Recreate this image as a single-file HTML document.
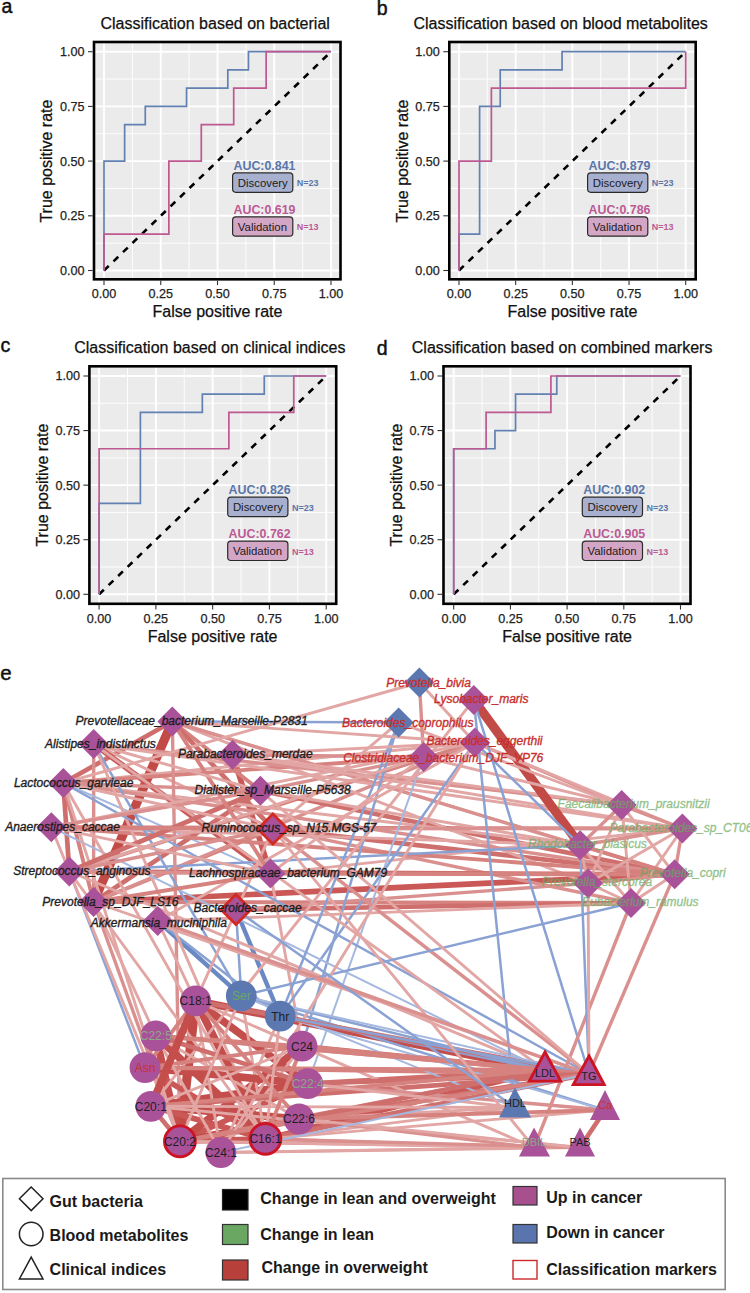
<!DOCTYPE html>
<html><head><meta charset="utf-8"><style>html,body{margin:0;padding:0;background:#fff;width:750px;height:1293px;overflow:hidden}svg{display:block}</style></head>
<body>
<svg width="750" height="1293" viewBox="0 0 750 1293" font-family='"Liberation Sans", sans-serif'>
<rect width="750" height="1293" fill="#fff"/>
<rect x="92.7" y="40.7" width="249.10000000000002" height="239.90000000000003" fill="#ebebeb"/>
<line x1="132.38" y1="40.7" x2="132.38" y2="280.6" stroke="#fff" stroke-width="0.9"/>
<line x1="92.7" y1="243.15" x2="341.8" y2="243.15" stroke="#fff" stroke-width="0.9"/>
<line x1="189.12" y1="40.7" x2="189.12" y2="280.6" stroke="#fff" stroke-width="0.9"/>
<line x1="92.7" y1="188.45" x2="341.8" y2="188.45" stroke="#fff" stroke-width="0.9"/>
<line x1="245.88" y1="40.7" x2="245.88" y2="280.6" stroke="#fff" stroke-width="0.9"/>
<line x1="92.7" y1="133.75" x2="341.8" y2="133.75" stroke="#fff" stroke-width="0.9"/>
<line x1="302.62" y1="40.7" x2="302.62" y2="280.6" stroke="#fff" stroke-width="0.9"/>
<line x1="92.7" y1="79.05" x2="341.8" y2="79.05" stroke="#fff" stroke-width="0.9"/>
<line x1="104.00" y1="40.7" x2="104.00" y2="280.6" stroke="#fff" stroke-width="1.9"/>
<line x1="92.7" y1="270.50" x2="341.8" y2="270.50" stroke="#fff" stroke-width="1.9"/>
<line x1="160.75" y1="40.7" x2="160.75" y2="280.6" stroke="#fff" stroke-width="1.9"/>
<line x1="92.7" y1="215.80" x2="341.8" y2="215.80" stroke="#fff" stroke-width="1.9"/>
<line x1="217.50" y1="40.7" x2="217.50" y2="280.6" stroke="#fff" stroke-width="1.9"/>
<line x1="92.7" y1="161.10" x2="341.8" y2="161.10" stroke="#fff" stroke-width="1.9"/>
<line x1="274.25" y1="40.7" x2="274.25" y2="280.6" stroke="#fff" stroke-width="1.9"/>
<line x1="92.7" y1="106.40" x2="341.8" y2="106.40" stroke="#fff" stroke-width="1.9"/>
<line x1="331.00" y1="40.7" x2="331.00" y2="280.6" stroke="#fff" stroke-width="1.9"/>
<line x1="92.7" y1="51.70" x2="341.8" y2="51.70" stroke="#fff" stroke-width="1.9"/>
<line x1="104.00" y1="270.50" x2="331.00" y2="51.70" stroke="#000" stroke-width="2.6" stroke-dasharray="6.6 6.6"/>
<path d="M104.00,270.50 L104.00,161.10 L124.64,161.10 L124.64,124.63 L145.27,124.63 L145.27,106.40 L186.55,106.40 L186.55,88.17 L227.82,88.17 L227.82,69.93 L248.45,69.93 L248.45,51.70 L331.00,51.70" fill="none" stroke="#6280b2" stroke-width="1.7"/>
<path d="M104.00,270.50 L104.00,234.03 L168.86,234.03 L168.86,161.10 L201.29,161.10 L201.29,124.63 L233.71,124.63 L233.71,88.17 L266.14,88.17 L266.14,51.70 L331.00,51.70" fill="none" stroke="#bd5890" stroke-width="1.7"/>
<text x="233.5" y="169.8" font-size="12.4" font-weight="bold" fill="#5a76aa">AUC:0.841</text>
<rect x="232.6" y="172.9" width="60.2" height="19.4" rx="3.2" fill="#a8b0cf" stroke="#2a2a2a" stroke-width="1.2"/>
<text x="237.8" y="186.7" font-size="11.4" fill="#1a1a1a">Discovery</text>
<text x="296.8" y="186.2" font-size="9" font-weight="bold" fill="#5a76aa">N=23</text>
<text x="233.5" y="213.8" font-size="12.4" font-weight="bold" fill="#bb5a94">AUC:0.619</text>
<rect x="232.6" y="216.8" width="60.2" height="19.4" rx="3.2" fill="#d4a6c6" stroke="#2a2a2a" stroke-width="1.2"/>
<text x="237.8" y="230.5" font-size="11.4" fill="#1a1a1a">Validation</text>
<text x="296.8" y="230.2" font-size="9" font-weight="bold" fill="#bb5a94">N=13</text>
<rect x="94.0" y="42.0" width="246.50000000000003" height="237.30000000000004" fill="none" stroke="#000" stroke-width="2.6"/>
<line x1="104.00" y1="280.6" x2="104.00" y2="285.1" stroke="#333" stroke-width="1.1"/>
<text x="104.00" y="298.1" font-size="12.6" fill="#222" stroke="#222" stroke-width="0.25" text-anchor="middle">0.00</text>
<line x1="88.0" y1="270.50" x2="92.7" y2="270.50" stroke="#333" stroke-width="1.1"/>
<text x="84.5" y="274.90" font-size="12.6" fill="#222" stroke="#222" stroke-width="0.25" text-anchor="end">0.00</text>
<line x1="160.75" y1="280.6" x2="160.75" y2="285.1" stroke="#333" stroke-width="1.1"/>
<text x="160.75" y="298.1" font-size="12.6" fill="#222" stroke="#222" stroke-width="0.25" text-anchor="middle">0.25</text>
<line x1="88.0" y1="215.80" x2="92.7" y2="215.80" stroke="#333" stroke-width="1.1"/>
<text x="84.5" y="220.20" font-size="12.6" fill="#222" stroke="#222" stroke-width="0.25" text-anchor="end">0.25</text>
<line x1="217.50" y1="280.6" x2="217.50" y2="285.1" stroke="#333" stroke-width="1.1"/>
<text x="217.50" y="298.1" font-size="12.6" fill="#222" stroke="#222" stroke-width="0.25" text-anchor="middle">0.50</text>
<line x1="88.0" y1="161.10" x2="92.7" y2="161.10" stroke="#333" stroke-width="1.1"/>
<text x="84.5" y="165.50" font-size="12.6" fill="#222" stroke="#222" stroke-width="0.25" text-anchor="end">0.50</text>
<line x1="274.25" y1="280.6" x2="274.25" y2="285.1" stroke="#333" stroke-width="1.1"/>
<text x="274.25" y="298.1" font-size="12.6" fill="#222" stroke="#222" stroke-width="0.25" text-anchor="middle">0.75</text>
<line x1="88.0" y1="106.40" x2="92.7" y2="106.40" stroke="#333" stroke-width="1.1"/>
<text x="84.5" y="110.80" font-size="12.6" fill="#222" stroke="#222" stroke-width="0.25" text-anchor="end">0.75</text>
<line x1="331.00" y1="280.6" x2="331.00" y2="285.1" stroke="#333" stroke-width="1.1"/>
<text x="331.00" y="298.1" font-size="12.6" fill="#222" stroke="#222" stroke-width="0.25" text-anchor="middle">1.00</text>
<line x1="88.0" y1="51.70" x2="92.7" y2="51.70" stroke="#333" stroke-width="1.1"/>
<text x="84.5" y="56.10" font-size="12.6" fill="#222" stroke="#222" stroke-width="0.25" text-anchor="end">1.00</text>
<text x="217.5" y="317.1" font-size="16" fill="#111" stroke="#111" stroke-width="0.25" text-anchor="middle">False positive rate</text>
<text transform="translate(52.2,161.1) rotate(-90)" x="0" y="0" font-size="16" fill="#111" stroke="#111" stroke-width="0.25" text-anchor="middle">True positive rate</text>
<text x="100.4" y="28.7" font-size="16" fill="#111" stroke="#111" stroke-width="0.25">Classification based on bacterial</text>
<text x="1.6" y="12.8" font-size="19.5" fill="#111" stroke="#111" stroke-width="0.45">a</text>
<rect x="448" y="40.7" width="249" height="239.90000000000003" fill="#ebebeb"/>
<line x1="487.34" y1="40.7" x2="487.34" y2="280.6" stroke="#fff" stroke-width="0.9"/>
<line x1="448" y1="243.15" x2="697" y2="243.15" stroke="#fff" stroke-width="0.9"/>
<line x1="544.01" y1="40.7" x2="544.01" y2="280.6" stroke="#fff" stroke-width="0.9"/>
<line x1="448" y1="188.45" x2="697" y2="188.45" stroke="#fff" stroke-width="0.9"/>
<line x1="600.69" y1="40.7" x2="600.69" y2="280.6" stroke="#fff" stroke-width="0.9"/>
<line x1="448" y1="133.75" x2="697" y2="133.75" stroke="#fff" stroke-width="0.9"/>
<line x1="657.36" y1="40.7" x2="657.36" y2="280.6" stroke="#fff" stroke-width="0.9"/>
<line x1="448" y1="79.05" x2="697" y2="79.05" stroke="#fff" stroke-width="0.9"/>
<line x1="459.00" y1="40.7" x2="459.00" y2="280.6" stroke="#fff" stroke-width="1.9"/>
<line x1="448" y1="270.50" x2="697" y2="270.50" stroke="#fff" stroke-width="1.9"/>
<line x1="515.67" y1="40.7" x2="515.67" y2="280.6" stroke="#fff" stroke-width="1.9"/>
<line x1="448" y1="215.80" x2="697" y2="215.80" stroke="#fff" stroke-width="1.9"/>
<line x1="572.35" y1="40.7" x2="572.35" y2="280.6" stroke="#fff" stroke-width="1.9"/>
<line x1="448" y1="161.10" x2="697" y2="161.10" stroke="#fff" stroke-width="1.9"/>
<line x1="629.03" y1="40.7" x2="629.03" y2="280.6" stroke="#fff" stroke-width="1.9"/>
<line x1="448" y1="106.40" x2="697" y2="106.40" stroke="#fff" stroke-width="1.9"/>
<line x1="685.70" y1="40.7" x2="685.70" y2="280.6" stroke="#fff" stroke-width="1.9"/>
<line x1="448" y1="51.70" x2="697" y2="51.70" stroke="#fff" stroke-width="1.9"/>
<line x1="459.00" y1="270.50" x2="685.70" y2="51.70" stroke="#000" stroke-width="2.6" stroke-dasharray="6.6 6.6"/>
<path d="M459.00,270.50 L459.00,234.03 L479.61,234.03 L479.61,106.40 L500.22,106.40 L500.22,69.93 L562.05,69.93 L562.05,51.70 L685.70,51.70" fill="none" stroke="#6280b2" stroke-width="1.7"/>
<path d="M459.00,270.50 L459.00,161.10 L491.39,161.10 L491.39,88.17 L685.70,88.17 L685.70,51.70" fill="none" stroke="#bd5890" stroke-width="1.7"/>
<text x="588.5" y="169.8" font-size="12.4" font-weight="bold" fill="#5a76aa">AUC:0.879</text>
<rect x="587.6" y="172.9" width="60.2" height="19.4" rx="3.2" fill="#a8b0cf" stroke="#2a2a2a" stroke-width="1.2"/>
<text x="592.8" y="186.7" font-size="11.4" fill="#1a1a1a">Discovery</text>
<text x="651.8" y="186.2" font-size="9" font-weight="bold" fill="#5a76aa">N=23</text>
<text x="588.5" y="213.8" font-size="12.4" font-weight="bold" fill="#bb5a94">AUC:0.786</text>
<rect x="587.6" y="216.8" width="60.2" height="19.4" rx="3.2" fill="#d4a6c6" stroke="#2a2a2a" stroke-width="1.2"/>
<text x="592.8" y="230.5" font-size="11.4" fill="#1a1a1a">Validation</text>
<text x="651.8" y="230.2" font-size="9" font-weight="bold" fill="#bb5a94">N=13</text>
<rect x="449.3" y="42.0" width="246.4" height="237.30000000000004" fill="none" stroke="#000" stroke-width="2.6"/>
<line x1="459.00" y1="280.6" x2="459.00" y2="285.1" stroke="#333" stroke-width="1.1"/>
<text x="459.00" y="298.1" font-size="12.6" fill="#222" stroke="#222" stroke-width="0.25" text-anchor="middle">0.00</text>
<line x1="443.3" y1="270.50" x2="448" y2="270.50" stroke="#333" stroke-width="1.1"/>
<text x="439.8" y="274.90" font-size="12.6" fill="#222" stroke="#222" stroke-width="0.25" text-anchor="end">0.00</text>
<line x1="515.67" y1="280.6" x2="515.67" y2="285.1" stroke="#333" stroke-width="1.1"/>
<text x="515.67" y="298.1" font-size="12.6" fill="#222" stroke="#222" stroke-width="0.25" text-anchor="middle">0.25</text>
<line x1="443.3" y1="215.80" x2="448" y2="215.80" stroke="#333" stroke-width="1.1"/>
<text x="439.8" y="220.20" font-size="12.6" fill="#222" stroke="#222" stroke-width="0.25" text-anchor="end">0.25</text>
<line x1="572.35" y1="280.6" x2="572.35" y2="285.1" stroke="#333" stroke-width="1.1"/>
<text x="572.35" y="298.1" font-size="12.6" fill="#222" stroke="#222" stroke-width="0.25" text-anchor="middle">0.50</text>
<line x1="443.3" y1="161.10" x2="448" y2="161.10" stroke="#333" stroke-width="1.1"/>
<text x="439.8" y="165.50" font-size="12.6" fill="#222" stroke="#222" stroke-width="0.25" text-anchor="end">0.50</text>
<line x1="629.03" y1="280.6" x2="629.03" y2="285.1" stroke="#333" stroke-width="1.1"/>
<text x="629.03" y="298.1" font-size="12.6" fill="#222" stroke="#222" stroke-width="0.25" text-anchor="middle">0.75</text>
<line x1="443.3" y1="106.40" x2="448" y2="106.40" stroke="#333" stroke-width="1.1"/>
<text x="439.8" y="110.80" font-size="12.6" fill="#222" stroke="#222" stroke-width="0.25" text-anchor="end">0.75</text>
<line x1="685.70" y1="280.6" x2="685.70" y2="285.1" stroke="#333" stroke-width="1.1"/>
<text x="685.70" y="298.1" font-size="12.6" fill="#222" stroke="#222" stroke-width="0.25" text-anchor="middle">1.00</text>
<line x1="443.3" y1="51.70" x2="448" y2="51.70" stroke="#333" stroke-width="1.1"/>
<text x="439.8" y="56.10" font-size="12.6" fill="#222" stroke="#222" stroke-width="0.25" text-anchor="end">1.00</text>
<text x="572.4" y="317.1" font-size="16" fill="#111" stroke="#111" stroke-width="0.25" text-anchor="middle">False positive rate</text>
<text transform="translate(407.5,161.1) rotate(-90)" x="0" y="0" font-size="16" fill="#111" stroke="#111" stroke-width="0.25" text-anchor="middle">True positive rate</text>
<text x="413.4" y="28.7" font-size="16" fill="#111" stroke="#111" stroke-width="0.25">Classification based on blood metabolites</text>
<text x="376.8" y="14.7" font-size="19.5" fill="#111" stroke="#111" stroke-width="0.45">b</text>
<rect x="88.1" y="365" width="249.4" height="240.10000000000002" fill="#ebebeb"/>
<line x1="127.49" y1="365" x2="127.49" y2="605.1" stroke="#fff" stroke-width="0.9"/>
<line x1="88.1" y1="567.01" x2="337.5" y2="567.01" stroke="#fff" stroke-width="0.9"/>
<line x1="184.26" y1="365" x2="184.26" y2="605.1" stroke="#fff" stroke-width="0.9"/>
<line x1="88.1" y1="512.44" x2="337.5" y2="512.44" stroke="#fff" stroke-width="0.9"/>
<line x1="241.04" y1="365" x2="241.04" y2="605.1" stroke="#fff" stroke-width="0.9"/>
<line x1="88.1" y1="457.86" x2="337.5" y2="457.86" stroke="#fff" stroke-width="0.9"/>
<line x1="297.81" y1="365" x2="297.81" y2="605.1" stroke="#fff" stroke-width="0.9"/>
<line x1="88.1" y1="403.29" x2="337.5" y2="403.29" stroke="#fff" stroke-width="0.9"/>
<line x1="99.10" y1="365" x2="99.10" y2="605.1" stroke="#fff" stroke-width="1.9"/>
<line x1="88.1" y1="594.30" x2="337.5" y2="594.30" stroke="#fff" stroke-width="1.9"/>
<line x1="155.88" y1="365" x2="155.88" y2="605.1" stroke="#fff" stroke-width="1.9"/>
<line x1="88.1" y1="539.72" x2="337.5" y2="539.72" stroke="#fff" stroke-width="1.9"/>
<line x1="212.65" y1="365" x2="212.65" y2="605.1" stroke="#fff" stroke-width="1.9"/>
<line x1="88.1" y1="485.15" x2="337.5" y2="485.15" stroke="#fff" stroke-width="1.9"/>
<line x1="269.42" y1="365" x2="269.42" y2="605.1" stroke="#fff" stroke-width="1.9"/>
<line x1="88.1" y1="430.57" x2="337.5" y2="430.57" stroke="#fff" stroke-width="1.9"/>
<line x1="326.20" y1="365" x2="326.20" y2="605.1" stroke="#fff" stroke-width="1.9"/>
<line x1="88.1" y1="376.00" x2="337.5" y2="376.00" stroke="#fff" stroke-width="1.9"/>
<line x1="99.10" y1="594.30" x2="326.20" y2="376.00" stroke="#000" stroke-width="2.6" stroke-dasharray="6.6 6.6"/>
<path d="M99.10,594.30 L99.10,503.34 L140.39,503.34 L140.39,412.38 L202.33,412.38 L202.33,394.19 L264.26,394.19 L264.26,376.00 L326.20,376.00" fill="none" stroke="#6280b2" stroke-width="1.7"/>
<path d="M99.10,594.30 L99.10,448.77 L228.87,448.77 L228.87,412.38 L293.76,412.38 L293.76,376.00 L326.20,376.00" fill="none" stroke="#bd5890" stroke-width="1.7"/>
<text x="228.6" y="494.1" font-size="12.4" font-weight="bold" fill="#5a76aa">AUC:0.826</text>
<rect x="227.7" y="497.2" width="60.2" height="19.4" rx="3.2" fill="#a8b0cf" stroke="#2a2a2a" stroke-width="1.2"/>
<text x="232.9" y="511.0" font-size="11.4" fill="#1a1a1a">Discovery</text>
<text x="291.9" y="510.5" font-size="9" font-weight="bold" fill="#5a76aa">N=23</text>
<text x="228.6" y="538.1" font-size="12.4" font-weight="bold" fill="#bb5a94">AUC:0.762</text>
<rect x="227.7" y="541.1" width="60.2" height="19.4" rx="3.2" fill="#d4a6c6" stroke="#2a2a2a" stroke-width="1.2"/>
<text x="232.9" y="554.8" font-size="11.4" fill="#1a1a1a">Validation</text>
<text x="291.9" y="554.5" font-size="9" font-weight="bold" fill="#bb5a94">N=13</text>
<rect x="89.39999999999999" y="366.3" width="246.8" height="237.50000000000003" fill="none" stroke="#000" stroke-width="2.6"/>
<line x1="99.10" y1="605.1" x2="99.10" y2="609.6" stroke="#333" stroke-width="1.1"/>
<text x="99.10" y="622.6" font-size="12.6" fill="#222" stroke="#222" stroke-width="0.25" text-anchor="middle">0.00</text>
<line x1="83.39999999999999" y1="594.30" x2="88.1" y2="594.30" stroke="#333" stroke-width="1.1"/>
<text x="79.89999999999999" y="598.70" font-size="12.6" fill="#222" stroke="#222" stroke-width="0.25" text-anchor="end">0.00</text>
<line x1="155.88" y1="605.1" x2="155.88" y2="609.6" stroke="#333" stroke-width="1.1"/>
<text x="155.88" y="622.6" font-size="12.6" fill="#222" stroke="#222" stroke-width="0.25" text-anchor="middle">0.25</text>
<line x1="83.39999999999999" y1="539.72" x2="88.1" y2="539.72" stroke="#333" stroke-width="1.1"/>
<text x="79.89999999999999" y="544.12" font-size="12.6" fill="#222" stroke="#222" stroke-width="0.25" text-anchor="end">0.25</text>
<line x1="212.65" y1="605.1" x2="212.65" y2="609.6" stroke="#333" stroke-width="1.1"/>
<text x="212.65" y="622.6" font-size="12.6" fill="#222" stroke="#222" stroke-width="0.25" text-anchor="middle">0.50</text>
<line x1="83.39999999999999" y1="485.15" x2="88.1" y2="485.15" stroke="#333" stroke-width="1.1"/>
<text x="79.89999999999999" y="489.55" font-size="12.6" fill="#222" stroke="#222" stroke-width="0.25" text-anchor="end">0.50</text>
<line x1="269.42" y1="605.1" x2="269.42" y2="609.6" stroke="#333" stroke-width="1.1"/>
<text x="269.42" y="622.6" font-size="12.6" fill="#222" stroke="#222" stroke-width="0.25" text-anchor="middle">0.75</text>
<line x1="83.39999999999999" y1="430.57" x2="88.1" y2="430.57" stroke="#333" stroke-width="1.1"/>
<text x="79.89999999999999" y="434.97" font-size="12.6" fill="#222" stroke="#222" stroke-width="0.25" text-anchor="end">0.75</text>
<line x1="326.20" y1="605.1" x2="326.20" y2="609.6" stroke="#333" stroke-width="1.1"/>
<text x="326.20" y="622.6" font-size="12.6" fill="#222" stroke="#222" stroke-width="0.25" text-anchor="middle">1.00</text>
<line x1="83.39999999999999" y1="376.00" x2="88.1" y2="376.00" stroke="#333" stroke-width="1.1"/>
<text x="79.89999999999999" y="380.40" font-size="12.6" fill="#222" stroke="#222" stroke-width="0.25" text-anchor="end">1.00</text>
<text x="212.6" y="641.6" font-size="16" fill="#111" stroke="#111" stroke-width="0.25" text-anchor="middle">False positive rate</text>
<text transform="translate(47.599999999999994,485.1) rotate(-90)" x="0" y="0" font-size="16" fill="#111" stroke="#111" stroke-width="0.25" text-anchor="middle">True positive rate</text>
<text x="74.2" y="352.7" font-size="16" fill="#111" stroke="#111" stroke-width="0.25">Classification based on clinical indices</text>
<text x="0.6" y="352.2" font-size="19.5" fill="#111" stroke="#111" stroke-width="0.45">c</text>
<rect x="442.2" y="365" width="249.59999999999997" height="240.10000000000002" fill="#ebebeb"/>
<line x1="482.05" y1="365" x2="482.05" y2="605.1" stroke="#fff" stroke-width="0.9"/>
<line x1="442.2" y1="567.01" x2="691.8" y2="567.01" stroke="#fff" stroke-width="0.9"/>
<line x1="538.75" y1="365" x2="538.75" y2="605.1" stroke="#fff" stroke-width="0.9"/>
<line x1="442.2" y1="512.44" x2="691.8" y2="512.44" stroke="#fff" stroke-width="0.9"/>
<line x1="595.45" y1="365" x2="595.45" y2="605.1" stroke="#fff" stroke-width="0.9"/>
<line x1="442.2" y1="457.86" x2="691.8" y2="457.86" stroke="#fff" stroke-width="0.9"/>
<line x1="652.15" y1="365" x2="652.15" y2="605.1" stroke="#fff" stroke-width="0.9"/>
<line x1="442.2" y1="403.29" x2="691.8" y2="403.29" stroke="#fff" stroke-width="0.9"/>
<line x1="453.70" y1="365" x2="453.70" y2="605.1" stroke="#fff" stroke-width="1.9"/>
<line x1="442.2" y1="594.30" x2="691.8" y2="594.30" stroke="#fff" stroke-width="1.9"/>
<line x1="510.40" y1="365" x2="510.40" y2="605.1" stroke="#fff" stroke-width="1.9"/>
<line x1="442.2" y1="539.72" x2="691.8" y2="539.72" stroke="#fff" stroke-width="1.9"/>
<line x1="567.10" y1="365" x2="567.10" y2="605.1" stroke="#fff" stroke-width="1.9"/>
<line x1="442.2" y1="485.15" x2="691.8" y2="485.15" stroke="#fff" stroke-width="1.9"/>
<line x1="623.80" y1="365" x2="623.80" y2="605.1" stroke="#fff" stroke-width="1.9"/>
<line x1="442.2" y1="430.57" x2="691.8" y2="430.57" stroke="#fff" stroke-width="1.9"/>
<line x1="680.50" y1="365" x2="680.50" y2="605.1" stroke="#fff" stroke-width="1.9"/>
<line x1="442.2" y1="376.00" x2="691.8" y2="376.00" stroke="#fff" stroke-width="1.9"/>
<line x1="453.70" y1="594.30" x2="680.50" y2="376.00" stroke="#000" stroke-width="2.6" stroke-dasharray="6.6 6.6"/>
<path d="M453.70,594.30 L453.70,448.77 L494.94,448.77 L494.94,430.57 L515.55,430.57 L515.55,394.19 L556.79,394.19 L556.79,376.00 L680.50,376.00" fill="none" stroke="#6280b2" stroke-width="1.7"/>
<path d="M453.70,594.30 L453.70,448.77 L486.10,448.77 L486.10,412.38 L550.90,412.38 L550.90,376.00 L680.50,376.00" fill="none" stroke="#bd5890" stroke-width="1.7"/>
<text x="583.2" y="494.1" font-size="12.4" font-weight="bold" fill="#5a76aa">AUC:0.902</text>
<rect x="582.3" y="497.2" width="60.2" height="19.4" rx="3.2" fill="#a8b0cf" stroke="#2a2a2a" stroke-width="1.2"/>
<text x="587.5" y="511.0" font-size="11.4" fill="#1a1a1a">Discovery</text>
<text x="646.5" y="510.5" font-size="9" font-weight="bold" fill="#5a76aa">N=23</text>
<text x="583.2" y="538.1" font-size="12.4" font-weight="bold" fill="#bb5a94">AUC:0.905</text>
<rect x="582.3" y="541.1" width="60.2" height="19.4" rx="3.2" fill="#d4a6c6" stroke="#2a2a2a" stroke-width="1.2"/>
<text x="587.5" y="554.8" font-size="11.4" fill="#1a1a1a">Validation</text>
<text x="646.5" y="554.5" font-size="9" font-weight="bold" fill="#bb5a94">N=13</text>
<rect x="443.5" y="366.3" width="246.99999999999997" height="237.50000000000003" fill="none" stroke="#000" stroke-width="2.6"/>
<line x1="453.70" y1="605.1" x2="453.70" y2="609.6" stroke="#333" stroke-width="1.1"/>
<text x="453.70" y="622.6" font-size="12.6" fill="#222" stroke="#222" stroke-width="0.25" text-anchor="middle">0.00</text>
<line x1="437.5" y1="594.30" x2="442.2" y2="594.30" stroke="#333" stroke-width="1.1"/>
<text x="434.0" y="598.70" font-size="12.6" fill="#222" stroke="#222" stroke-width="0.25" text-anchor="end">0.00</text>
<line x1="510.40" y1="605.1" x2="510.40" y2="609.6" stroke="#333" stroke-width="1.1"/>
<text x="510.40" y="622.6" font-size="12.6" fill="#222" stroke="#222" stroke-width="0.25" text-anchor="middle">0.25</text>
<line x1="437.5" y1="539.72" x2="442.2" y2="539.72" stroke="#333" stroke-width="1.1"/>
<text x="434.0" y="544.12" font-size="12.6" fill="#222" stroke="#222" stroke-width="0.25" text-anchor="end">0.25</text>
<line x1="567.10" y1="605.1" x2="567.10" y2="609.6" stroke="#333" stroke-width="1.1"/>
<text x="567.10" y="622.6" font-size="12.6" fill="#222" stroke="#222" stroke-width="0.25" text-anchor="middle">0.50</text>
<line x1="437.5" y1="485.15" x2="442.2" y2="485.15" stroke="#333" stroke-width="1.1"/>
<text x="434.0" y="489.55" font-size="12.6" fill="#222" stroke="#222" stroke-width="0.25" text-anchor="end">0.50</text>
<line x1="623.80" y1="605.1" x2="623.80" y2="609.6" stroke="#333" stroke-width="1.1"/>
<text x="623.80" y="622.6" font-size="12.6" fill="#222" stroke="#222" stroke-width="0.25" text-anchor="middle">0.75</text>
<line x1="437.5" y1="430.57" x2="442.2" y2="430.57" stroke="#333" stroke-width="1.1"/>
<text x="434.0" y="434.97" font-size="12.6" fill="#222" stroke="#222" stroke-width="0.25" text-anchor="end">0.75</text>
<line x1="680.50" y1="605.1" x2="680.50" y2="609.6" stroke="#333" stroke-width="1.1"/>
<text x="680.50" y="622.6" font-size="12.6" fill="#222" stroke="#222" stroke-width="0.25" text-anchor="middle">1.00</text>
<line x1="437.5" y1="376.00" x2="442.2" y2="376.00" stroke="#333" stroke-width="1.1"/>
<text x="434.0" y="380.40" font-size="12.6" fill="#222" stroke="#222" stroke-width="0.25" text-anchor="end">1.00</text>
<text x="567.1" y="641.6" font-size="16" fill="#111" stroke="#111" stroke-width="0.25" text-anchor="middle">False positive rate</text>
<text transform="translate(401.7,485.1) rotate(-90)" x="0" y="0" font-size="16" fill="#111" stroke="#111" stroke-width="0.25" text-anchor="middle">True positive rate</text>
<text x="411.8" y="352.7" font-size="16" fill="#111" stroke="#111" stroke-width="0.25">Classification based on combined markers</text>
<text x="376.8" y="355.3" font-size="19.5" fill="#111" stroke="#111" stroke-width="0.45">d</text>
<text x="0.3" y="679.5" font-size="20.5" fill="#111" stroke="#111" stroke-width="0.45">e</text>
<line x1="172.3" y1="721.5" x2="93.6" y2="902" stroke="#c24a47" stroke-width="9.2"/>
<line x1="172.3" y1="721.5" x2="63.3" y2="783" stroke="#cf6f6d" stroke-width="4.7"/>
<line x1="63.3" y1="783" x2="69.3" y2="871.5" stroke="#cf6f6d" stroke-width="4.7"/>
<line x1="63.3" y1="783" x2="93.6" y2="902" stroke="#d6827f" stroke-width="3.9"/>
<line x1="93.7" y1="744" x2="93.6" y2="902" stroke="#da908e" stroke-width="3.4"/>
<line x1="232.6" y1="754.8" x2="270.5" y2="873.6" stroke="#c95856" stroke-width="5.6"/>
<line x1="172.3" y1="721.5" x2="260.4" y2="790.8" stroke="#d6827f" stroke-width="3.9"/>
<line x1="172.3" y1="721.5" x2="272.9" y2="828.9" stroke="#cf6f6d" stroke-width="4.7"/>
<line x1="93.7" y1="744" x2="272.9" y2="828.9" stroke="#e2a6a4" stroke-width="2.9"/>
<line x1="93.7" y1="744" x2="270.5" y2="873.6" stroke="#c95856" stroke-width="5.6"/>
<line x1="63.3" y1="783" x2="270.5" y2="873.6" stroke="#a5b8df" stroke-width="2.0"/>
<line x1="51.3" y1="827.2" x2="69.3" y2="871.5" stroke="#e2a6a4" stroke-width="2.9"/>
<line x1="93.6" y1="902" x2="260.4" y2="790.8" stroke="#cf6f6d" stroke-width="4.7"/>
<line x1="93.6" y1="902" x2="272.9" y2="828.9" stroke="#d6827f" stroke-width="3.9"/>
<line x1="69.3" y1="871.5" x2="474.9" y2="742.5" stroke="#d6827f" stroke-width="3.9"/>
<line x1="63.3" y1="783" x2="474.9" y2="742.5" stroke="#e2a6a4" stroke-width="2.9"/>
<line x1="63.3" y1="783" x2="423.6" y2="757" stroke="#d6827f" stroke-width="3.9"/>
<line x1="260.4" y1="790.8" x2="423.6" y2="757" stroke="#da908e" stroke-width="3.4"/>
<line x1="93.6" y1="902" x2="474.9" y2="742.5" stroke="#da908e" stroke-width="3.4"/>
<line x1="51.3" y1="827.2" x2="682.4" y2="828.5" stroke="#d6827f" stroke-width="3.9"/>
<line x1="260.4" y1="790.8" x2="674.7" y2="874.3" stroke="#cf6f6d" stroke-width="4.7"/>
<line x1="272.9" y1="828.9" x2="674.7" y2="874.3" stroke="#cf6f6d" stroke-width="4.7"/>
<line x1="93.6" y1="902" x2="674.7" y2="874.3" stroke="#c95856" stroke-width="5.6"/>
<line x1="93.6" y1="902" x2="631" y2="903" stroke="#d6827f" stroke-width="3.9"/>
<line x1="235.9" y1="909.6" x2="631" y2="903" stroke="#cf6f6d" stroke-width="4.7"/>
<line x1="172.3" y1="721.5" x2="580.1" y2="845.2" stroke="#e2a6a4" stroke-width="2.9"/>
<line x1="172.3" y1="721.5" x2="588.1" y2="883.3" stroke="#e2a6a4" stroke-width="2.9"/>
<line x1="172.3" y1="721.5" x2="674.7" y2="874.3" stroke="#da908e" stroke-width="3.4"/>
<line x1="93.7" y1="744" x2="621.7" y2="805" stroke="#da908e" stroke-width="3.4"/>
<line x1="93.7" y1="744" x2="682.4" y2="828.5" stroke="#e2a6a4" stroke-width="2.9"/>
<line x1="232.6" y1="754.8" x2="621.7" y2="805" stroke="#e2a6a4" stroke-width="2.9"/>
<line x1="232.6" y1="754.8" x2="682.4" y2="828.5" stroke="#e2a6a4" stroke-width="2.9"/>
<line x1="270.5" y1="873.6" x2="682.4" y2="828.5" stroke="#e2a6a4" stroke-width="2.9"/>
<line x1="63.3" y1="783" x2="580.1" y2="845.2" stroke="#e2a6a4" stroke-width="2.9"/>
<line x1="63.3" y1="783" x2="674.7" y2="874.3" stroke="#da908e" stroke-width="3.4"/>
<line x1="272.9" y1="828.9" x2="631" y2="903" stroke="#da908e" stroke-width="3.4"/>
<line x1="51.3" y1="827.2" x2="674.7" y2="874.3" stroke="#d6827f" stroke-width="3.9"/>
<line x1="69.3" y1="871.5" x2="674.7" y2="874.3" stroke="#cf6f6d" stroke-width="4.7"/>
<line x1="235.9" y1="909.6" x2="588.1" y2="883.3" stroke="#da908e" stroke-width="3.4"/>
<line x1="69.3" y1="871.5" x2="580.1" y2="845.2" stroke="#8aa2d3" stroke-width="2.5"/>
<line x1="260.4" y1="790.8" x2="580.1" y2="845.2" stroke="#e2a6a4" stroke-width="2.9"/>
<line x1="272.9" y1="828.9" x2="682.4" y2="828.5" stroke="#da908e" stroke-width="3.4"/>
<line x1="51.3" y1="827.2" x2="580.1" y2="845.2" stroke="#e2a6a4" stroke-width="2.9"/>
<line x1="270.5" y1="873.6" x2="674.7" y2="874.3" stroke="#d6827f" stroke-width="3.9"/>
<line x1="157.7" y1="921" x2="631" y2="903" stroke="#e2a6a4" stroke-width="2.9"/>
<line x1="473.8" y1="699.9" x2="580.1" y2="845.2" stroke="#c24a47" stroke-width="9.2"/>
<line x1="474.9" y1="742.5" x2="621.7" y2="805" stroke="#da908e" stroke-width="3.4"/>
<line x1="474.9" y1="742.5" x2="682.4" y2="828.5" stroke="#e2a6a4" stroke-width="2.9"/>
<line x1="398.6" y1="722.4" x2="682.4" y2="828.5" stroke="#e2a6a4" stroke-width="2.9"/>
<line x1="423.6" y1="757" x2="621.7" y2="805" stroke="#e2a6a4" stroke-width="2.9"/>
<line x1="419.4" y1="682.5" x2="423.6" y2="757" stroke="#da908e" stroke-width="3.4"/>
<line x1="474.9" y1="742.5" x2="580.1" y2="845.2" stroke="#8aa2d3" stroke-width="2.5"/>
<line x1="621.7" y1="805" x2="682.4" y2="828.5" stroke="#da908e" stroke-width="3.4"/>
<line x1="621.7" y1="805" x2="580.1" y2="845.2" stroke="#da908e" stroke-width="3.4"/>
<line x1="682.4" y1="828.5" x2="674.7" y2="874.3" stroke="#da908e" stroke-width="3.4"/>
<line x1="682.4" y1="828.5" x2="631" y2="903" stroke="#e2a6a4" stroke-width="2.9"/>
<line x1="621.7" y1="805" x2="631" y2="903" stroke="#e2a6a4" stroke-width="2.9"/>
<line x1="580.1" y1="845.2" x2="674.7" y2="874.3" stroke="#d6827f" stroke-width="3.9"/>
<line x1="588.1" y1="883.3" x2="631" y2="903" stroke="#e2a6a4" stroke-width="2.9"/>
<line x1="172.3" y1="721.5" x2="179.9" y2="1141.3" stroke="#da908e" stroke-width="3.4"/>
<line x1="157.7" y1="921" x2="241.3" y2="995.8" stroke="#6a89c4" stroke-width="4.4"/>
<line x1="157.7" y1="921" x2="280.2" y2="1016.2" stroke="#8aa2d3" stroke-width="2.5"/>
<line x1="235.9" y1="909.6" x2="280.2" y2="1016.2" stroke="#6a89c4" stroke-width="4.4"/>
<line x1="93.7" y1="744" x2="241.3" y2="995.8" stroke="#8aa2d3" stroke-width="2.5"/>
<line x1="93.6" y1="902" x2="179.9" y2="1141.3" stroke="#da908e" stroke-width="3.4"/>
<line x1="93.6" y1="902" x2="155.8" y2="1035.8" stroke="#e2a6a4" stroke-width="2.9"/>
<line x1="93.7" y1="744" x2="265.4" y2="1138.9" stroke="#e2a6a4" stroke-width="2.9"/>
<line x1="157.7" y1="921" x2="195.6" y2="1000.8" stroke="#e2a6a4" stroke-width="2.9"/>
<line x1="235.9" y1="909.6" x2="241.3" y2="995.8" stroke="#8aa2d3" stroke-width="2.5"/>
<line x1="270.5" y1="873.6" x2="302" y2="1046.2" stroke="#e2a6a4" stroke-width="2.9"/>
<line x1="272.9" y1="828.9" x2="195.6" y2="1000.8" stroke="#e2a6a4" stroke-width="2.9"/>
<line x1="398.6" y1="722.4" x2="302" y2="1046.2" stroke="#8aa2d3" stroke-width="2.5"/>
<line x1="474.9" y1="742.5" x2="280.2" y2="1016.2" stroke="#8aa2d3" stroke-width="2.5"/>
<line x1="423.6" y1="757" x2="307.7" y2="1083.7" stroke="#a5b8df" stroke-width="2.0"/>
<line x1="195.6" y1="1000.8" x2="179.9" y2="1141.3" stroke="#c24a47" stroke-width="9.2"/>
<line x1="195.6" y1="1000.8" x2="265.4" y2="1138.9" stroke="#c44e4b" stroke-width="7.6"/>
<line x1="195.6" y1="1000.8" x2="307.7" y2="1083.7" stroke="#c44e4b" stroke-width="7.6"/>
<line x1="155.8" y1="1035.8" x2="179.9" y2="1141.3" stroke="#c44e4b" stroke-width="7.6"/>
<line x1="155.8" y1="1035.8" x2="265.4" y2="1138.9" stroke="#c44e4b" stroke-width="7.6"/>
<line x1="307.7" y1="1083.7" x2="179.9" y2="1141.3" stroke="#c95856" stroke-width="5.6"/>
<line x1="302" y1="1046.2" x2="179.9" y2="1141.3" stroke="#c44e4b" stroke-width="7.6"/>
<line x1="150.8" y1="1106.3" x2="307.7" y2="1083.7" stroke="#c44e4b" stroke-width="7.6"/>
<line x1="150.8" y1="1106.3" x2="299" y2="1119" stroke="#c44e4b" stroke-width="7.6"/>
<line x1="145" y1="1067.6" x2="265.4" y2="1138.9" stroke="#c95856" stroke-width="5.6"/>
<line x1="179.9" y1="1141.3" x2="299" y2="1119" stroke="#c44e4b" stroke-width="7.6"/>
<line x1="150.8" y1="1106.3" x2="265.4" y2="1138.9" stroke="#c95856" stroke-width="5.6"/>
<line x1="155.8" y1="1035.8" x2="299" y2="1119" stroke="#e2a6a4" stroke-width="2.9"/>
<line x1="195.6" y1="1000.8" x2="220.9" y2="1152.5" stroke="#e2a6a4" stroke-width="2.9"/>
<line x1="280.2" y1="1016.2" x2="220.9" y2="1152.5" stroke="#e2a6a4" stroke-width="2.9"/>
<line x1="302" y1="1046.2" x2="220.9" y2="1152.5" stroke="#e2a6a4" stroke-width="2.9"/>
<line x1="241.3" y1="995.8" x2="265.4" y2="1138.9" stroke="#e2a6a4" stroke-width="2.9"/>
<line x1="179.9" y1="1141.3" x2="265.4" y2="1138.9" stroke="#c95856" stroke-width="5.6"/>
<line x1="145" y1="1067.6" x2="307.7" y2="1083.7" stroke="#c44e4b" stroke-width="7.6"/>
<line x1="155.8" y1="1035.8" x2="302" y2="1046.2" stroke="#d6827f" stroke-width="3.9"/>
<line x1="195.6" y1="1000.8" x2="545" y2="1070" stroke="#c44e4b" stroke-width="7.6"/>
<line x1="265.4" y1="1138.9" x2="545" y2="1070" stroke="#c95856" stroke-width="5.6"/>
<line x1="302" y1="1046.2" x2="545" y2="1070" stroke="#cf6f6d" stroke-width="4.7"/>
<line x1="307.7" y1="1083.7" x2="545" y2="1070" stroke="#cf6f6d" stroke-width="4.7"/>
<line x1="179.9" y1="1141.3" x2="545" y2="1070" stroke="#d6827f" stroke-width="3.9"/>
<line x1="299" y1="1119" x2="589" y2="1074" stroke="#cf6f6d" stroke-width="4.7"/>
<line x1="150.8" y1="1106.3" x2="589" y2="1074" stroke="#cf6f6d" stroke-width="4.7"/>
<line x1="155.8" y1="1035.8" x2="589" y2="1074" stroke="#d6827f" stroke-width="3.9"/>
<line x1="265.4" y1="1138.9" x2="534" y2="1147.5" stroke="#da908e" stroke-width="3.4"/>
<line x1="179.9" y1="1141.3" x2="580" y2="1147.5" stroke="#da908e" stroke-width="3.4"/>
<line x1="220.9" y1="1152.5" x2="580" y2="1147.5" stroke="#e2a6a4" stroke-width="2.9"/>
<line x1="265.4" y1="1138.9" x2="515" y2="1107.5" stroke="#e2a6a4" stroke-width="2.9"/>
<line x1="299" y1="1119" x2="515" y2="1107.5" stroke="#e2a6a4" stroke-width="2.9"/>
<line x1="241.3" y1="995.8" x2="605" y2="1110" stroke="#8aa2d3" stroke-width="2.5"/>
<line x1="280.2" y1="1016.2" x2="545" y2="1070" stroke="#8aa2d3" stroke-width="2.5"/>
<line x1="195.6" y1="1000.8" x2="534" y2="1147.5" stroke="#e2a6a4" stroke-width="2.9"/>
<line x1="145" y1="1067.6" x2="589" y2="1074" stroke="#d6827f" stroke-width="3.9"/>
<line x1="307.7" y1="1083.7" x2="605" y2="1110" stroke="#da908e" stroke-width="3.4"/>
<line x1="150.8" y1="1106.3" x2="580" y2="1147.5" stroke="#e2a6a4" stroke-width="2.9"/>
<line x1="299" y1="1119" x2="534" y2="1147.5" stroke="#da908e" stroke-width="3.4"/>
<line x1="280.2" y1="1016.2" x2="605" y2="1110" stroke="#a5b8df" stroke-width="2.0"/>
<line x1="241.3" y1="995.8" x2="515" y2="1107.5" stroke="#a5b8df" stroke-width="2.0"/>
<line x1="63.3" y1="783" x2="589" y2="1074" stroke="#8aa2d3" stroke-width="2.5"/>
<line x1="93.7" y1="744" x2="545" y2="1070" stroke="#e2a6a4" stroke-width="2.9"/>
<line x1="69.3" y1="871.5" x2="545" y2="1070" stroke="#e2a6a4" stroke-width="2.9"/>
<line x1="93.6" y1="902" x2="589" y2="1074" stroke="#e2a6a4" stroke-width="2.9"/>
<line x1="272.9" y1="828.9" x2="589" y2="1074" stroke="#da908e" stroke-width="3.4"/>
<line x1="51.3" y1="827.2" x2="545" y2="1070" stroke="#a5b8df" stroke-width="2.0"/>
<line x1="473.8" y1="699.9" x2="515" y2="1107.5" stroke="#8aa2d3" stroke-width="2.5"/>
<line x1="473.8" y1="699.9" x2="589" y2="1074" stroke="#8aa2d3" stroke-width="2.5"/>
<line x1="631" y1="903" x2="534" y2="1147.5" stroke="#da908e" stroke-width="3.4"/>
<line x1="580.1" y1="845.2" x2="589" y2="1074" stroke="#8aa2d3" stroke-width="2.5"/>
<line x1="588.1" y1="883.3" x2="589" y2="1074" stroke="#e2a6a4" stroke-width="2.9"/>
<line x1="605" y1="1110" x2="580" y2="1147.5" stroke="#cf6f6d" stroke-width="4.7"/>
<line x1="631" y1="903" x2="241.3" y2="995.8" stroke="#8aa2d3" stroke-width="2.5"/>
<line x1="172.3" y1="721.5" x2="398.6" y2="722.4" stroke="#8aa2d3" stroke-width="2.5"/>
<line x1="398.6" y1="722.4" x2="280.2" y2="1016.2" stroke="#8aa2d3" stroke-width="2.5"/>
<line x1="63.3" y1="783" x2="419.4" y2="682.5" stroke="#e2a6a4" stroke-width="2.9"/>
<line x1="172.3" y1="721.5" x2="474.9" y2="742.5" stroke="#e2a6a4" stroke-width="2.9"/>
<line x1="69.3" y1="871.5" x2="423.6" y2="757" stroke="#e2a6a4" stroke-width="2.9"/>
<line x1="270.5" y1="873.6" x2="423.6" y2="757" stroke="#e2a6a4" stroke-width="2.9"/>
<line x1="157.7" y1="921" x2="474.9" y2="742.5" stroke="#e2a6a4" stroke-width="2.9"/>
<line x1="51.3" y1="827.2" x2="474.9" y2="742.5" stroke="#e2a6a4" stroke-width="2.9"/>
<line x1="473.8" y1="699.9" x2="150.8" y2="1106.3" stroke="#e2a6a4" stroke-width="2.9"/>
<line x1="232.6" y1="754.8" x2="423.6" y2="757" stroke="#da908e" stroke-width="3.4"/>
<line x1="232.6" y1="754.8" x2="474.9" y2="742.5" stroke="#e2a6a4" stroke-width="2.9"/>
<line x1="69.3" y1="871.5" x2="145" y2="1067.6" stroke="#8aa2d3" stroke-width="2.5"/>
<line x1="69.3" y1="871.5" x2="179.9" y2="1141.3" stroke="#e2a6a4" stroke-width="2.9"/>
<line x1="63.3" y1="783" x2="179.9" y2="1141.3" stroke="#e2a6a4" stroke-width="2.9"/>
<line x1="69.3" y1="871.5" x2="265.4" y2="1138.9" stroke="#e2a6a4" stroke-width="2.9"/>
<line x1="63.3" y1="783" x2="265.4" y2="1138.9" stroke="#e2a6a4" stroke-width="2.9"/>
<line x1="260.4" y1="790.8" x2="589" y2="1074" stroke="#e2a6a4" stroke-width="2.9"/>
<line x1="474.9" y1="742.5" x2="220.9" y2="1152.5" stroke="#e2a6a4" stroke-width="2.9"/>
<line x1="674.7" y1="874.3" x2="589" y2="1074" stroke="#da908e" stroke-width="3.4"/>
<line x1="195.6" y1="1000.8" x2="589" y2="1074" stroke="#cf6f6d" stroke-width="4.7"/>
<line x1="241.3" y1="995.8" x2="545" y2="1070" stroke="#8aa2d3" stroke-width="2.5"/>
<line x1="241.3" y1="995.8" x2="589" y2="1074" stroke="#a5b8df" stroke-width="2.0"/>
<line x1="280.2" y1="1016.2" x2="589" y2="1074" stroke="#8aa2d3" stroke-width="2.5"/>
<line x1="302" y1="1046.2" x2="589" y2="1074" stroke="#d6827f" stroke-width="3.9"/>
<line x1="307.7" y1="1083.7" x2="589" y2="1074" stroke="#cf6f6d" stroke-width="4.7"/>
<line x1="299" y1="1119" x2="545" y2="1070" stroke="#cf6f6d" stroke-width="4.7"/>
<line x1="265.4" y1="1138.9" x2="589" y2="1074" stroke="#cf6f6d" stroke-width="4.7"/>
<line x1="150.8" y1="1106.3" x2="545" y2="1070" stroke="#d6827f" stroke-width="3.9"/>
<line x1="145" y1="1067.6" x2="545" y2="1070" stroke="#d6827f" stroke-width="3.9"/>
<line x1="155.8" y1="1035.8" x2="545" y2="1070" stroke="#d6827f" stroke-width="3.9"/>
<line x1="179.9" y1="1141.3" x2="589" y2="1074" stroke="#d6827f" stroke-width="3.9"/>
<line x1="265.4" y1="1138.9" x2="605" y2="1110" stroke="#e2a6a4" stroke-width="2.9"/>
<line x1="299" y1="1119" x2="605" y2="1110" stroke="#d6827f" stroke-width="3.9"/>
<line x1="307.7" y1="1083.7" x2="515" y2="1107.5" stroke="#e2a6a4" stroke-width="2.9"/>
<line x1="220.9" y1="1152.5" x2="534" y2="1147.5" stroke="#e2a6a4" stroke-width="2.9"/>
<line x1="179.9" y1="1141.3" x2="534" y2="1147.5" stroke="#e2a6a4" stroke-width="2.9"/>
<line x1="265.4" y1="1138.9" x2="580" y2="1147.5" stroke="#da908e" stroke-width="3.4"/>
<line x1="150.8" y1="1106.3" x2="515" y2="1107.5" stroke="#e2a6a4" stroke-width="2.9"/>
<line x1="299" y1="1119" x2="580" y2="1147.5" stroke="#e2a6a4" stroke-width="2.9"/>
<line x1="195.6" y1="1000.8" x2="299" y2="1119" stroke="#d6827f" stroke-width="3.9"/>
<line x1="155.8" y1="1035.8" x2="307.7" y2="1083.7" stroke="#cf6f6d" stroke-width="4.7"/>
<line x1="145" y1="1067.6" x2="302" y2="1046.2" stroke="#d6827f" stroke-width="3.9"/>
<line x1="150.8" y1="1106.3" x2="302" y2="1046.2" stroke="#e2a6a4" stroke-width="2.9"/>
<line x1="69.3" y1="871.5" x2="260.4" y2="790.8" stroke="#cf6f6d" stroke-width="4.7"/>
<line x1="172.3" y1="721.5" x2="270.5" y2="873.6" stroke="#d6827f" stroke-width="3.9"/>
<line x1="51.3" y1="827.2" x2="272.9" y2="828.9" stroke="#d6827f" stroke-width="3.9"/>
<line x1="51.3" y1="827.2" x2="260.4" y2="790.8" stroke="#da908e" stroke-width="3.4"/>
<line x1="63.3" y1="783" x2="260.4" y2="790.8" stroke="#da908e" stroke-width="3.4"/>
<line x1="93.7" y1="744" x2="260.4" y2="790.8" stroke="#e2a6a4" stroke-width="2.9"/>
<line x1="69.3" y1="871.5" x2="272.9" y2="828.9" stroke="#da908e" stroke-width="3.4"/>
<line x1="93.6" y1="902" x2="270.5" y2="873.6" stroke="#d6827f" stroke-width="3.9"/>
<line x1="51.3" y1="827.2" x2="270.5" y2="873.6" stroke="#e2a6a4" stroke-width="2.9"/>
<line x1="69.3" y1="871.5" x2="270.5" y2="873.6" stroke="#da908e" stroke-width="3.4"/>
<line x1="63.3" y1="783" x2="272.9" y2="828.9" stroke="#e2a6a4" stroke-width="2.9"/>
<line x1="580.1" y1="845.2" x2="682.4" y2="828.5" stroke="#da908e" stroke-width="3.4"/>
<line x1="682.4" y1="828.5" x2="588.1" y2="883.3" stroke="#e2a6a4" stroke-width="2.9"/>
<line x1="621.7" y1="805" x2="588.1" y2="883.3" stroke="#e2a6a4" stroke-width="2.9"/>
<line x1="621.7" y1="805" x2="674.7" y2="874.3" stroke="#e2a6a4" stroke-width="2.9"/>
<line x1="588.1" y1="883.3" x2="674.7" y2="874.3" stroke="#da908e" stroke-width="3.4"/>
<line x1="674.7" y1="874.3" x2="631" y2="903" stroke="#e2a6a4" stroke-width="2.9"/>
<line x1="580.1" y1="845.2" x2="588.1" y2="883.3" stroke="#e2a6a4" stroke-width="2.9"/>
<line x1="580.1" y1="845.2" x2="631" y2="903" stroke="#e2a6a4" stroke-width="2.9"/>
<line x1="155.8" y1="1035.8" x2="145" y2="1067.6" stroke="#d6827f" stroke-width="3.9"/>
<line x1="150.8" y1="1106.3" x2="179.9" y2="1141.3" stroke="#cf6f6d" stroke-width="4.7"/>
<line x1="195.6" y1="1000.8" x2="145" y2="1067.6" stroke="#d6827f" stroke-width="3.9"/>
<line x1="155.8" y1="1035.8" x2="220.9" y2="1152.5" stroke="#e2a6a4" stroke-width="2.9"/>
<line x1="280.2" y1="1016.2" x2="265.4" y2="1138.9" stroke="#e2a6a4" stroke-width="2.9"/>
<line x1="241.3" y1="995.8" x2="179.9" y2="1141.3" stroke="#e2a6a4" stroke-width="2.9"/>
<line x1="419.4" y1="682.5" x2="474.9" y2="742.5" stroke="#e2a6a4" stroke-width="2.9"/>
<line x1="195.6" y1="1000.8" x2="150.8" y2="1106.3" stroke="#c44e4b" stroke-width="7.6"/>
<line x1="302" y1="1046.2" x2="265.4" y2="1138.9" stroke="#d6827f" stroke-width="3.9"/>
<line x1="272.9" y1="828.9" x2="534" y2="1147.5" stroke="#e2a6a4" stroke-width="2.9"/>
<line x1="157.7" y1="921" x2="589" y2="1074" stroke="#da908e" stroke-width="3.4"/>
<line x1="235.9" y1="909.6" x2="515" y2="1107.5" stroke="#8aa2d3" stroke-width="2.5"/>
<line x1="220.9" y1="1152.5" x2="589" y2="1074" stroke="#a5b8df" stroke-width="2.0"/>
<line x1="398.6" y1="722.4" x2="272.9" y2="828.9" stroke="#e2a6a4" stroke-width="2.9"/>
<path d="M172.3,706.5 L187.3,721.5 L172.3,736.5 L157.3,721.5 Z" fill="#a9529a"/>
<path d="M93.7,729 L108.7,744 L93.7,759 L78.7,744 Z" fill="#a9529a"/>
<path d="M63.3,768 L78.3,783 L63.3,798 L48.3,783 Z" fill="#a9529a"/>
<path d="M51.3,812.2 L66.3,827.2 L51.3,842.2 L36.3,827.2 Z" fill="#a9529a"/>
<path d="M69.3,856.5 L84.3,871.5 L69.3,886.5 L54.3,871.5 Z" fill="#a9529a"/>
<path d="M93.6,887 L108.6,902 L93.6,917 L78.6,902 Z" fill="#a9529a"/>
<path d="M157.7,906 L172.7,921 L157.7,936 L142.7,921 Z" fill="#a9529a"/>
<path d="M232.6,739.8 L247.6,754.8 L232.6,769.8 L217.6,754.8 Z" fill="#a9529a"/>
<path d="M260.4,775.8 L275.4,790.8 L260.4,805.8 L245.39999999999998,790.8 Z" fill="#a9529a"/>
<path d="M272.9,813.9 L287.9,828.9 L272.9,843.9 L257.9,828.9 Z" fill="#a9529a" stroke="#d22a22" stroke-width="2.8"/>
<path d="M270.5,858.6 L285.5,873.6 L270.5,888.6 L255.5,873.6 Z" fill="#a9529a"/>
<path d="M235.9,894.6 L250.9,909.6 L235.9,924.6 L220.9,909.6 Z" fill="#a9529a" stroke="#d22a22" stroke-width="2.8"/>
<path d="M419.4,667.5 L434.4,682.5 L419.4,697.5 L404.4,682.5 Z" fill="#5b78b0"/>
<path d="M473.8,684.9 L488.8,699.9 L473.8,714.9 L458.8,699.9 Z" fill="#a9529a"/>
<path d="M398.6,707.4 L413.6,722.4 L398.6,737.4 L383.6,722.4 Z" fill="#5b78b0"/>
<path d="M474.9,727.5 L489.9,742.5 L474.9,757.5 L459.9,742.5 Z" fill="#a9529a"/>
<path d="M423.6,742 L438.6,757 L423.6,772 L408.6,757 Z" fill="#a9529a"/>
<path d="M621.7,790 L636.7,805 L621.7,820 L606.7,805 Z" fill="#a9529a"/>
<path d="M682.4,813.5 L697.4,828.5 L682.4,843.5 L667.4,828.5 Z" fill="#a9529a"/>
<path d="M580.1,830.2 L595.1,845.2 L580.1,860.2 L565.1,845.2 Z" fill="#a9529a"/>
<path d="M674.7,859.3 L689.7,874.3 L674.7,889.3 L659.7,874.3 Z" fill="#a9529a"/>
<path d="M588.1,868.3 L603.1,883.3 L588.1,898.3 L573.1,883.3 Z" fill="#a9529a"/>
<path d="M631,888 L646,903 L631,918 L616,903 Z" fill="#a9529a"/>
<circle cx="195.6" cy="1000.8" r="15.4" fill="#a9529a"/>
<circle cx="241.3" cy="995.8" r="15.4" fill="#5b78b0"/>
<circle cx="280.2" cy="1016.2" r="15.4" fill="#5b78b0"/>
<circle cx="155.8" cy="1035.8" r="15.4" fill="#a9529a"/>
<circle cx="302" cy="1046.2" r="15.4" fill="#a9529a"/>
<circle cx="145" cy="1067.6" r="15.4" fill="#a9529a"/>
<circle cx="307.7" cy="1083.7" r="15.4" fill="#a9529a"/>
<circle cx="150.8" cy="1106.3" r="15.4" fill="#a9529a"/>
<circle cx="299" cy="1119" r="15.4" fill="#a9529a"/>
<circle cx="179.9" cy="1141.3" r="15.4" fill="#a9529a" stroke="#cc1424" stroke-width="2.9"/>
<circle cx="265.4" cy="1138.9" r="15.4" fill="#a9529a" stroke="#cc1424" stroke-width="2.9"/>
<circle cx="220.9" cy="1152.5" r="15.4" fill="#a9529a"/>
<path d="M545,1052 L560.7,1081.1 L529.3,1081.1 Z" fill="#a9529a" stroke="#cc1424" stroke-width="2.9" stroke-linejoin="miter"/>
<path d="M589,1056 L604.2,1084.6 L573.3,1084.6 Z" fill="#a9529a" stroke="#cc1424" stroke-width="2.9" stroke-linejoin="miter"/>
<path d="M515,1087.5 L531,1117.5 L499,1117.5 Z" fill="#5b78b0"/>
<path d="M605,1090 L620,1120 L590,1120 Z" fill="#a9529a"/>
<path d="M534,1127.5 L550,1156.5 L519,1156.5 Z" fill="#a9529a"/>
<path d="M580,1127.5 L595,1156.5 L565,1156.5 Z" fill="#a9529a"/>
<text x="75.6" y="725" font-size="12" font-style="italic" fill="#1e1e1e" stroke="#1e1e1e" stroke-width="0.35">Prevotellaceae_bacterium_Marseille-P2831</text>
<text x="45.1" y="748.3" font-size="12" font-style="italic" fill="#1e1e1e" stroke="#1e1e1e" stroke-width="0.35">Alistipes_indistinctus</text>
<text x="13.9" y="787.3" font-size="12" font-style="italic" fill="#1e1e1e" stroke="#1e1e1e" stroke-width="0.35">Lactococcus_garvieae</text>
<text x="5.2" y="830.7" font-size="12" font-style="italic" fill="#1e1e1e" stroke="#1e1e1e" stroke-width="0.35">Anaerostipes_caccae</text>
<text x="13.2" y="875" font-size="12" font-style="italic" fill="#1e1e1e" stroke="#1e1e1e" stroke-width="0.35">Streptococcus_anginosus</text>
<text x="42.3" y="905.5" font-size="12" font-style="italic" fill="#1e1e1e" stroke="#1e1e1e" stroke-width="0.35">Prevotella_sp_DJF_LS16</text>
<text x="90.8" y="927" font-size="12" font-style="italic" fill="#1e1e1e" stroke="#1e1e1e" stroke-width="0.35">Akkermansia_muciniphila</text>
<text x="177.9" y="758.2" font-size="12" font-style="italic" fill="#1e1e1e" stroke="#1e1e1e" stroke-width="0.35">Parabacteroides_merdae</text>
<text x="194.6" y="794.3" font-size="12" font-style="italic" fill="#1e1e1e" stroke="#1e1e1e" stroke-width="0.35">Dialister_sp_Marseille-P5638</text>
<text x="201.5" y="832.4" font-size="12" font-style="italic" fill="#1e1e1e" stroke="#1e1e1e" stroke-width="0.35">Ruminococcus_sp_N15.MGS-57</text>
<text x="189.1" y="877" font-size="12" font-style="italic" fill="#1e1e1e" stroke="#1e1e1e" stroke-width="0.35">Lachnospiraceae_bacterium_GAM79</text>
<text x="193.6" y="912.4" font-size="12" font-style="italic" fill="#1e1e1e" stroke="#1e1e1e" stroke-width="0.35">Bacteroides_caccae</text>
<text x="386.2" y="686.7" font-size="12" font-style="italic" fill="#c8302e" stroke="#c8302e" stroke-width="0.35">Prevotella_bivia</text>
<text x="434" y="703.3" font-size="12" font-style="italic" fill="#c8302e" stroke="#c8302e" stroke-width="0.35">Lysobacter_maris</text>
<text x="342.1" y="726.5" font-size="12" font-style="italic" fill="#c8302e" stroke="#c8302e" stroke-width="0.35">Bacteroides_coprophilus</text>
<text x="426.4" y="744.9" font-size="12" font-style="italic" fill="#c8302e" stroke="#c8302e" stroke-width="0.35">Bacteroides_eggerthii</text>
<text x="343.2" y="762.3" font-size="12" font-style="italic" fill="#c8302e" stroke="#c8302e" stroke-width="0.35">Clostridiaceae_bacterium_DJF_VP76</text>
<text x="557.6" y="808.4" font-size="12" font-style="italic" fill="#6aab5e" stroke="#6aab5e" stroke-width="0.3" opacity="0.72">Faecalibacterium_prausnitzii</text>
<text x="609.6" y="832" font-size="12" font-style="italic" fill="#6aab5e" stroke="#6aab5e" stroke-width="0.3" opacity="0.72">Parabacteroides_sp_CT06</text>
<text x="528.1" y="847.6" font-size="12" font-style="italic" fill="#6aab5e" stroke="#6aab5e" stroke-width="0.3" opacity="0.72">Rhodobacter_blasicus</text>
<text x="639.7" y="877" font-size="12" font-style="italic" fill="#6aab5e" stroke="#6aab5e" stroke-width="0.3" opacity="0.72">Prevotella_copri</text>
<text x="542" y="885.7" font-size="12" font-style="italic" fill="#6aab5e" stroke="#6aab5e" stroke-width="0.3" opacity="0.72">Prevotella_stercorea</text>
<text x="581.9" y="905.5" font-size="12" font-style="italic" fill="#6aab5e" stroke="#6aab5e" stroke-width="0.3" opacity="0.72">Eubacterium_ramulus</text>
<text x="195.6" y="1005.0999999999999" font-size="12" fill="#1e1e1e" text-anchor="middle">C18:1</text>
<text x="241.3" y="1000.0999999999999" font-size="12" fill="#6aa85e" text-anchor="middle">Ser</text>
<text x="280.2" y="1020.5" font-size="12" fill="#1e1e1e" text-anchor="middle">Thr</text>
<text x="155.8" y="1040.1" font-size="12" fill="#8ea884" text-anchor="middle">C22:5</text>
<text x="302" y="1050.5" font-size="12" fill="#1e1e1e" text-anchor="middle">C24</text>
<text x="145" y="1071.8999999999999" font-size="12" fill="#c8302e" text-anchor="middle">Asn</text>
<text x="307.7" y="1088.0" font-size="12" fill="#8ea884" text-anchor="middle">C22:4</text>
<text x="150.8" y="1110.6" font-size="12" fill="#1e1e1e" text-anchor="middle">C20:1</text>
<text x="299" y="1123.3" font-size="12" fill="#1e1e1e" text-anchor="middle">C22:6</text>
<text x="179.9" y="1145.6" font-size="12" fill="#1e1e1e" text-anchor="middle">C20:2</text>
<text x="265.4" y="1143.2" font-size="12" fill="#1e1e1e" text-anchor="middle">C16:1</text>
<text x="220.9" y="1156.8" font-size="12" fill="#1e1e1e" text-anchor="middle">C24:1</text>
<text x="545" y="1076.5" font-size="11" fill="#1e1e1e" text-anchor="middle">LDL</text>
<text x="589" y="1080" font-size="11" fill="#1e1e1e" text-anchor="middle">TG</text>
<text x="515" y="1106.5" font-size="11" fill="#1e1e1e" text-anchor="middle">HDL</text>
<text x="605" y="1109" font-size="11" fill="#c8302e" text-anchor="middle">Ca</text>
<text x="534" y="1145.5" font-size="11" fill="#8ea884" text-anchor="middle">DBIL</text>
<text x="580" y="1145.5" font-size="11" fill="#1e1e1e" text-anchor="middle">PAB</text>
<rect x="2.8" y="1178.5" width="722.4" height="111" fill="none" stroke="#8a8a8a" stroke-width="1.6"/>
<path d="M31.2,1187 L43,1198.8 L31.2,1210.6 L19.4,1198.8 Z" fill="none" stroke="#222" stroke-width="1.5"/>
<circle cx="31.2" cy="1234" r="11.8" fill="none" stroke="#222" stroke-width="1.5"/>
<path d="M31.2,1257.2 L43,1279 L19.4,1279 Z" fill="none" stroke="#222" stroke-width="1.5"/>
<text x="49.6" y="1207.3" font-size="16" font-weight="bold" fill="#1a1a1a">Gut bacteria</text>
<text x="49.6" y="1240.7" font-size="16" font-weight="bold" fill="#1a1a1a">Blood metabolites</text>
<text x="49.6" y="1275.3" font-size="16" font-weight="bold" fill="#1a1a1a">Clinical indices</text>
<rect x="222.5" y="1189.5" width="25.5" height="20.5" fill="#000" stroke="#222" stroke-width="1.2"/>
<rect x="222.5" y="1224.5" width="25.5" height="20" fill="#69a763" stroke="#333" stroke-width="1.2"/>
<rect x="222.5" y="1260" width="25.5" height="20" fill="#b8403a" stroke="#333" stroke-width="1.2"/>
<text x="260.3" y="1204" font-size="16" font-weight="bold" fill="#1a1a1a">Change in lean and overweight</text>
<text x="260.3" y="1240" font-size="16" font-weight="bold" fill="#1a1a1a">Change in lean</text>
<text x="261.5" y="1273.2" font-size="16" font-weight="bold" fill="#1a1a1a">Change in overweight</text>
<rect x="513" y="1186.5" width="24" height="18.5" fill="#a8508e" stroke="#333" stroke-width="1.2"/>
<rect x="513" y="1224.5" width="24" height="18.5" fill="#5a75ad" stroke="#333" stroke-width="1.2"/>
<rect x="513" y="1260.5" width="24" height="18.5" fill="#fff" stroke="#cc2a2a" stroke-width="1.4"/>
<text x="546.2" y="1203.3" font-size="16" font-weight="bold" fill="#1a1a1a">Up in cancer</text>
<text x="546.2" y="1238.3" font-size="16" font-weight="bold" fill="#1a1a1a">Down in cancer</text>
<text x="546.2" y="1275" font-size="16" font-weight="bold" fill="#1a1a1a">Classification markers</text>
</svg>
</body></html>
